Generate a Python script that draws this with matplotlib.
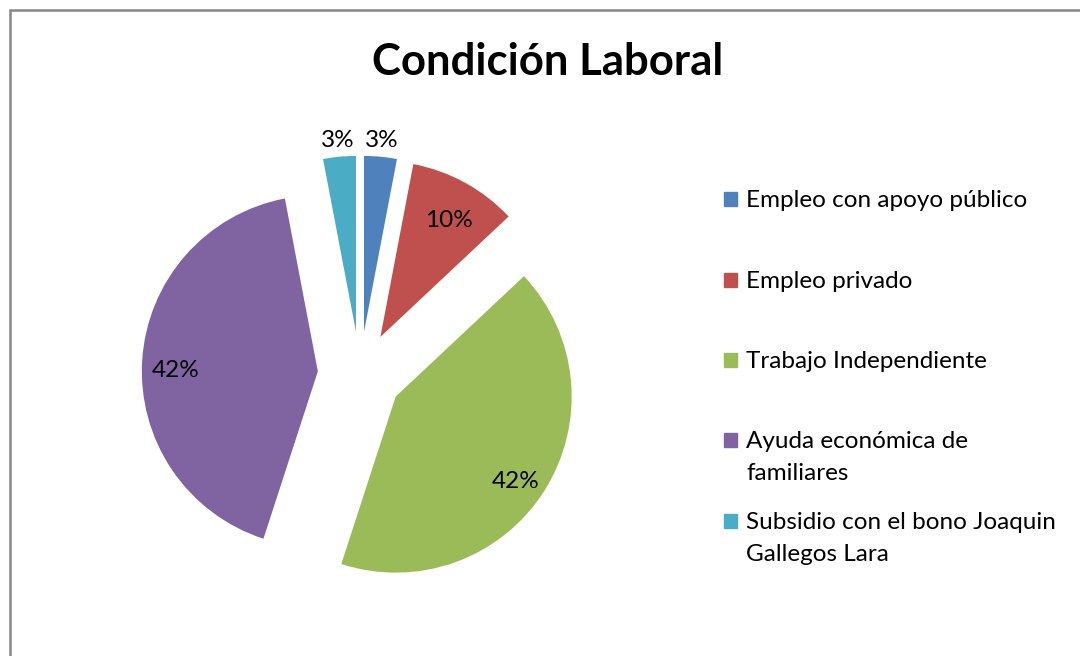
import matplotlib
matplotlib.use('Agg')
import matplotlib.pyplot as plt
from matplotlib.patches import Rectangle
import numpy as np

# chart data
categories = ['Empleo con apoyo público', 'Empleo privado', 'Trabajo Independiente',
              'Ayuda económica de\nfamiliares', 'Subsidio con el bono Joaquin\nGallegos Lara']
values = [3, 10, 42, 42, 3]
colors = ['#4F81BD', '#C0504D', '#9BBB59', '#8064A2', '#4BACC6']

plt.rcParams['font.family'] = ['Lato', 'DejaVu Sans']

W, H = 1080, 656
fig = plt.figure(figsize=(W / 100, H / 100), dpi=100)

# pie axes in pixel-like units (1 unit = pie radius)
R = 176.0
cx, cy = 360, 374
ax = fig.add_axes([0, 0, 1, 1])
wedges, texts, autotexts = ax.pie(
    values, colors=colors, startangle=90, counterclock=False,
    explode=[0.24] * len(values), radius=1,
    autopct='%1.0f%%', pctdistance=0.81,
    textprops={'fontsize': 17.5, 'color': 'black'})
ax.set_xlim(-cx / R, (W - cx) / R)
ax.set_ylim((cy - H) / R, cy / R)
ax.set_aspect('auto')
ax.axis('off')

# small slices get their labels outside, the others sit a bit lower
total = sum(values)
start = 90.0
for v, t in zip(values, autotexts):
    mid = np.deg2rad(start - 360.0 * v / total / 2)
    start -= 360.0 * v / total
    if v / total < 0.05:
        t.set_position((1.33 * np.cos(mid), 1.33 * np.sin(mid)))
    else:
        x, y = t.get_position()
        t.set_position((x, y - 8 / R))

# title
fig.text(548 / W, 1 - 62 / H, 'Condición Laboral', fontsize=31.5, fontweight='bold',
         ha='center', va='center')

# legend drawn by hand (baseline of first line, one text per line)
leg_y = [207, 288, 368, 448, 529]
for lab, col, y in zip(categories, colors, leg_y):
    fig.patches.append(Rectangle((724 / W, 1 - (y - 1) / H), 13 / W, 14 / H,
                                 transform=fig.transFigure, color=col))
    for k, line in enumerate(lab.split('\n')):
        fig.text(746 / W, 1 - (y + 32 * k) / H, line, fontsize=17.5,
                 va='baseline', ha='left')

# chart frame (only left/top edges visible in the crop)
fig.patches.append(Rectangle((9.5 / W, -0.05), 1.1, 1 - 9.5 / H + 0.05,
                             transform=fig.transFigure, fill=False,
                             edgecolor='#868686', linewidth=1.8))

fig.savefig('out.png', dpi=100)
